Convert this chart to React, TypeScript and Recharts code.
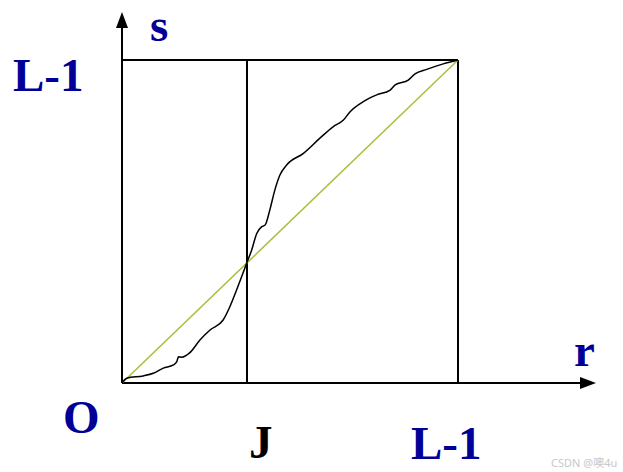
import React from "react";
import { LineChart, Line, XAxis, YAxis, ReferenceLine, ReferenceDot } from "recharts";

// Transformation curve s = T(r), values in percent of (L-1)
const curveR = [0, 1.4, 6.3, 9.3, 12.3, 15.3, 16.3, 16.8, 17.8, 20.2, 23.2, 26.2, 30.1, 32.1, 34.1, 35.6, 37.1, 38.6, 40.1, 41.6, 42.6, 44.0, 45.5, 47.0, 49.0, 54.0, 58.9, 62.9, 65.9, 67.9, 71.8, 75.8, 79.8, 81.3, 85.2, 87.2, 90.7, 95.6, 100];
const curveS = [0, 1.5, 2.2, 3.0, 4.6, 5.6, 6.6, 8.1, 8.0, 9.4, 13.3, 16.4, 19.5, 23.6, 28.8, 32.9, 37.1, 41.2, 46.3, 48.4, 48.9, 53.6, 59.8, 64.4, 67.5, 71.1, 75.8, 79.4, 81.4, 84.0, 87.1, 89.2, 90.7, 92.3, 93.8, 95.7, 97.1, 98.8, 100];
const diagR = [0, 100];
const diagS = [0, 100];
const maxLevel = 100; // L-1
const jLevel = 37.2; // J
const xAxisEnd = 141.07;
const yAxisEnd = 114.86;

const curveData = curveR.map((r, i) => ({ r, s: curveS[i] }));
const diagData = diagR.map((r, i) => ({ r, s: diagS[i] }));

const BLUE = "#000099";
const FONT = "'Liberation Serif', 'Times New Roman', serif";

const ArrowRight = (props: any) => {
  const { cx, cy } = props;
  return <polygon points={`${cx},${cy} ${cx - 16},${cy - 6} ${cx - 16},${cy + 6}`} fill="#000" />;
};
const ArrowUp = (props: any) => {
  const { cx, cy } = props;
  return <polygon points={`${cx},${cy} ${cx - 6},${cy + 16} ${cx + 6},${cy + 16}`} fill="#000" />;
};

const labels = [
  { t: "L-1", x: 13, y: 91, c: BLUE },
  { t: "s", x: 150, y: 41, c: BLUE },
  { t: "r", x: 574, y: 366, c: BLUE },
  { t: "O", x: 63, y: 433, c: BLUE },
  { t: "J", x: 249, y: 458, c: "#000" },
  { t: "L-1", x: 411, y: 459, c: BLUE },
];

export default function App() {
  return (
    <div style={{ position: "absolute", left: 0, top: 0, width: 623, height: 472, background: "#fff" }}>
      <LineChart width={623} height={472} margin={{ top: 12, right: 27, bottom: 89, left: 122 }}>
        <XAxis type="number" dataKey="r" domain={[0, xAxisEnd]} hide allowDataOverflow />
        <YAxis type="number" dataKey="s" domain={[0, yAxisEnd]} hide allowDataOverflow />
        <ReferenceLine segment={[{ x: 0, y: 0 }, { x: xAxisEnd - 2, y: 0 }]} stroke="#000" strokeWidth={2} ifOverflow="visible" />
        <ReferenceLine segment={[{ x: 0, y: 0 }, { x: 0, y: yAxisEnd - 2 }]} stroke="#000" strokeWidth={2} ifOverflow="visible" />
        <ReferenceLine segment={[{ x: 0, y: maxLevel }, { x: maxLevel, y: maxLevel }]} stroke="#000" strokeWidth={2} />
        <ReferenceLine segment={[{ x: maxLevel, y: 0 }, { x: maxLevel, y: maxLevel }]} stroke="#000" strokeWidth={2} />
        <ReferenceLine segment={[{ x: jLevel, y: 0 }, { x: jLevel, y: maxLevel }]} stroke="#000" strokeWidth={2} />
        <ReferenceDot x={xAxisEnd} y={0} r={0} shape={ArrowRight} ifOverflow="visible" />
        <ReferenceDot x={0} y={yAxisEnd} r={0} shape={ArrowUp} ifOverflow="visible" />
        <Line data={diagData} dataKey="s" type="linear" stroke="#a6c13a" strokeWidth={1.5} dot={false} isAnimationActive={false} />
        <Line data={curveData} dataKey="s" type="monotone" stroke="#000" strokeWidth={1.5} dot={false} isAnimationActive={false} />
      </LineChart>
      <svg width={623} height={472} style={{ position: "absolute", left: 0, top: 0, pointerEvents: "none" }}>
        {labels.map((l, i) => (
          <text key={i} x={l.x} y={l.y} fill={l.c} fontFamily={FONT} fontWeight="bold" fontSize={47}>
            {l.t}
          </text>
        ))}
        <text x={551} y={467} fill="#c8c8c8" fontFamily="'Noto Sans', 'Noto Sans CJK SC', sans-serif" fontSize={11}>
          CSDN @噢4u
        </text>
      </svg>
    </div>
  );
}
